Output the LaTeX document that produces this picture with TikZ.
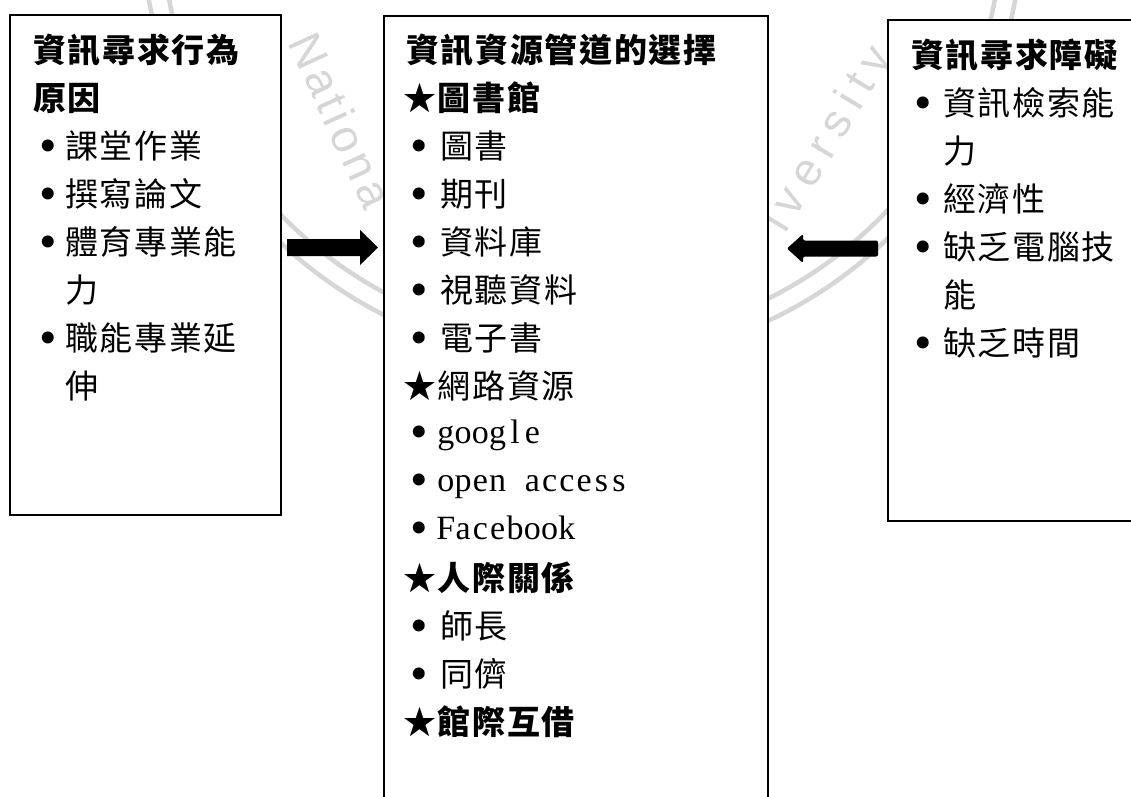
\documentclass[tikz,border=0pt]{standalone}
\usepackage{fontspec}
\newfontfamily\cjk[LetterSpace=5]{Noto Sans CJK TC}
\newfontfamily\lat{Liberation Serif}
\newfontfamily\wmka[LetterSpace=10]{Liberation Sans}
\newfontfamily\wmkb[LetterSpace=20]{Liberation Sans}
\newcommand\mc[1]{\makebox[17.3pt][c]{#1}}
\begin{document}
\begin{tikzpicture}[x=1pt,y=-1pt,
  box/.style={draw=black, line width=1.6pt, fill=white, inner sep=0pt, anchor=north west},
  ttl/.style={anchor=base west, inner sep=0pt, font=\cjk\bfseries\fontsize{33}{33}\selectfont},
  txt/.style={anchor=base west, inner sep=0pt, font=\cjk\fontsize{33}{33}\selectfont},
  bul/.style={anchor=base west, inner sep=0pt, font=\lat\fontsize{50}{50}\selectfont},
  ltxt/.style={anchor=base west, inner sep=0pt, font=\lat\fontsize{34}{34}\selectfont},
  wm/.style={text=black!16, inner sep=0pt},
  wmring/.style={draw=black!16, line width=4.5pt},
  blockarrow/.style={fill=black}]
\useasboundingbox (0,0) rectangle (1131,796);
\clip (0,0) rectangle (1131,796);
\fill[white] (0,0) rectangle (1131,796);
% faint watermark
\coordinate (wc) at (582,-78);
\draw[wmring] (wc) circle[radius=420pt];
\draw[wmring] (wc) circle[radius=440pt];
\node[wm, rotate=-65.5, font=\wmka\fontsize{46}{46}\selectfont] (w1) at (341,120) {Nationa};
\node[wm, rotate=58.8, font=\wmkb\fontsize{46}{46}\selectfont] (w2) at (829,140) {iversity};
% boxes
\node[box, minimum width=271pt, minimum height=500pt] (L) at (9,14) {};
\node[box, minimum width=384pt, minimum height=820pt] (M) at (383,15) {};
\node[box, minimum width=300pt, minimum height=501pt] (R) at (887,19) {};
% left box text
\node[ttl] (l0) at (33,62.5) {資訊尋求行為};
\node[ttl] (l1) at (33,110.5) {原因};
\node[bul] (lb1) at (39.5,162) {•};
\node[txt] (l2) at (65,158.5) {課堂作業};
\node[bul] (lb2) at (39.5,210) {•};
\node[txt] (l3) at (65,206.5) {撰寫論文};
\node[bul] (lb3) at (39.5,258) {•};
\node[txt] (l4) at (65,254.5) {體育專業能};
\node[txt] (l5) at (65,302.5) {力};
\node[bul] (lb4) at (39.5,354) {•};
\node[txt] (l6) at (65,350.5) {職能專業延};
\node[txt] (l7) at (65,398.5) {伸};
% middle box text
\node[ttl] (m0) at (406,62.5) {資訊資源管道的選擇};
\node[ttl] (m1) at (403,110.5) {★圖書館};
\node[bul] (mb1) at (410.5,162) {•};
\node[txt] (m2) at (440,158.5) {圖書};
\node[bul] (mb2) at (410.5,210) {•};
\node[txt] (m3) at (440,206.5) {期刊};
\node[bul] (mb3) at (410.5,258) {•};
\node[txt] (m4) at (440,254.5) {資料庫};
\node[bul] (mb4) at (410.5,306) {•};
\node[txt] (m5) at (440,302.5) {視聽資料};
\node[bul] (mb5) at (410.5,354) {•};
\node[txt] (m6) at (440,350.5) {電子書};
\node[txt] (m7) at (403,398.5) {★網路資源};
\node[bul] (mb6) at (410.5,448) {•};
\node[ltxt] (m8) at (437,443.5) {\mc{g}\mc{o}\mc{o}\mc{g}\mc{l}\mc{e}};
\node[bul] (mb7) at (410.5,496.5) {•};
\node[ltxt] (m9) at (437,491.5) {\mc{o}\mc{p}\mc{e}\mc{n}\hspace{17.3pt}\mc{a}\mc{c}\mc{c}\mc{e}\mc{s}\mc{s}};
\node[bul] (mb8) at (410.5,544) {•};
\node[ltxt] (m10) at (437,539.5) {\mc{F}\mc{a}\mc{c}\mc{e}\mc{b}\mc{o}\mc{o}\mc{k}};
\node[ttl] (m11) at (403,590.5) {★人際關係};
\node[bul] (mb9) at (410.5,642) {•};
\node[txt] (m12) at (440,638.5) {師長};
\node[bul] (mb10) at (410.5,690) {•};
\node[txt] (m13) at (440,686.5) {同儕};
\node[ttl] (m14) at (403,734.5) {★館際互借};
% right box text
\node[ttl] (r0) at (911,67.5) {資訊尋求障礙};
\node[bul] (rb1) at (914.5,119) {•};
\node[txt] (r1) at (943,115.5) {資訊檢索能};
\node[txt] (r2) at (943,163.5) {力};
\node[bul] (rb2) at (914.5,215) {•};
\node[txt] (r3) at (943,211.5) {經濟性};
\node[bul] (rb3) at (914.5,263) {•};
\node[txt] (r4) at (943,259.5) {缺乏電腦技};
\node[txt] (r5) at (943,307.5) {能};
\node[bul] (rb4) at (914.5,359) {•};
\node[txt] (r6) at (943,355.5) {缺乏時間};
% block arrows
\coordinate (ra1) at (287,247.5);
\coordinate (ra2) at (378,247.5);
\fill[blockarrow] (ra1) ++(0,-8.5) -- ++(73,0) -- ++(0,-9) -- (ra2) -- ++(-18,17.5) -- ++(0,-9) -- ++(-73,0) -- cycle;
\coordinate (la1) at (878,248.5);
\coordinate (la2) at (787,248.5);
\fill[blockarrow, rounded corners=2pt] (la1) ++(0,-8) -- ++(-75,0) -- ++(0,-6.5) -- (la2) -- ++(16,14.5) -- ++(0,-6.5) -- ++(75,0) -- cycle;
\end{tikzpicture}
\end{document}
